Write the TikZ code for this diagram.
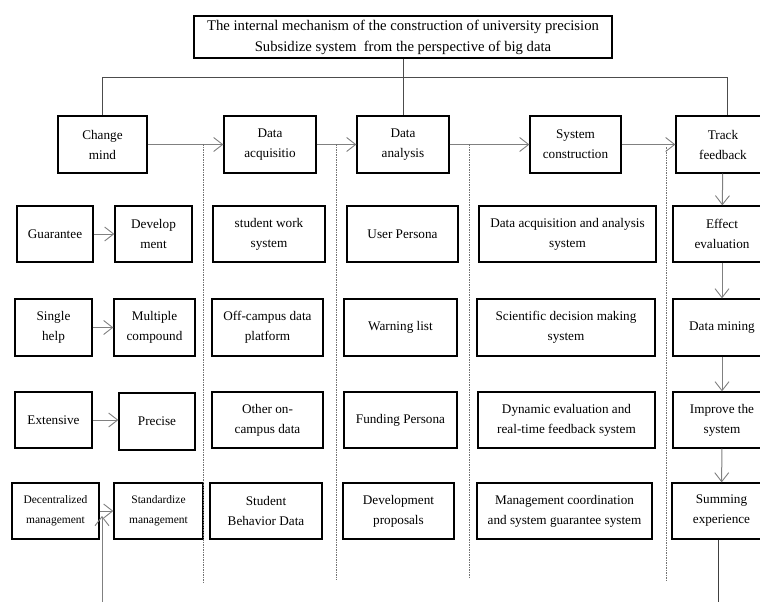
\documentclass[tikz,border=0pt]{standalone}
\usepackage{fontspec}
\setmainfont{Liberation Serif}
\usetikzlibrary{arrows.meta}
\begin{document}
\begin{tikzpicture}[x=1pt,y=-1pt,
  box/.style={draw=black,line width=1.3pt,inner sep=0pt,align=center,
    font=\fontsize{13.2}{20}\selectfont},
  conn/.style={draw=black!50,line width=1pt},
  arr/.style={conn,-{Straight Barb[length=9pt,width=14pt,line width=0.9pt]}},
  dotline/.style={draw=black!55,line width=0.8pt,dash pattern=on 1.5pt off 1pt},
  topline/.style={draw=black!70,line width=1pt}]
\useasboundingbox (0,0) rectangle (760,602);
\begin{scope}
\clip (0,0) rectangle (760,602);
% title
\node[box,minimum width=418,minimum height=42,font=\fontsize{14.7}{21}\selectfont] (title) at (403,37)
  {The internal mechanism of the construction of university precision\\Subsidize system\ \ from the perspective of big data};
% top row
\node[box,minimum width=89,minimum height=57] (cm) at (102.5,144.5) {Change\\mind};
\node[box,minimum width=92,minimum height=57] (da) at (270,144.5) {Data\\acquisitio};
\node[box,minimum width=92,minimum height=57] (dan) at (403,144.5) {Data\\analysis};
\node[box,minimum width=91,minimum height=57] (sc) at (575.5,144.5) {System\\construction};
\node[box,minimum width=94,minimum height=57] (tf) at (723,144.5) {Track\\feedback};
% column 1
\node[box,minimum width=76,minimum height=56] (gua) at (55,234) {Guarantee};
\node[box,minimum width=77,minimum height=56] (dev) at (153.5,234) {Develop\\ment};
\node[box,minimum width=77,minimum height=57] (sh) at (53.5,327.5) {Single\\help};
\node[box,minimum width=81,minimum height=57] (mc) at (154.5,327.5) {Multiple\\compound};
\node[box,minimum width=77,minimum height=56] (ext) at (53.5,420) {Extensive};
\node[box,minimum width=76,minimum height=57] (pre) at (157,421.5) {Precise};
\node[box,minimum width=87,minimum height=56,font=\fontsize{11.5}{20}\selectfont] (dec) at (55.5,511) {Decentralized\\management};
\node[box,minimum width=89,minimum height=56,font=\fontsize{11.5}{20}\selectfont] (std) at (158.5,511) {Standardize\\management};
% column 2
\node[box,minimum width=112,minimum height=56] (swk) at (269,234) {student work\\system};
\node[box,minimum width=111,minimum height=57] (ocd) at (267.5,327.5) {Off-campus data\\platform};
\node[box,minimum width=111,minimum height=56] (oon) at (267.5,420) {Other on-\\campus data};
\node[box,minimum width=112,minimum height=56] (sbd) at (266,511) {Student\\Behavior Data};
% column 3
\node[box,minimum width=111,minimum height=56] (up) at (402.5,234) {User Persona};
\node[box,minimum width=113,minimum height=57] (wl) at (400.5,327.5) {Warning list};
\node[box,minimum width=113,minimum height=56] (fp) at (400.5,420) {Funding Persona};
\node[box,minimum width=111,minimum height=56] (dp) at (398.5,511) {Development\\proposals};
% column 4
\node[box,minimum width=177,minimum height=56] (dams) at (567.5,234) {Data acquisition and analysis\\system};
\node[box,minimum width=178,minimum height=57] (sdm) at (566,327.5) {Scientific decision making\\system};
\node[box,minimum width=177,minimum height=56] (dyn) at (566.5,420) {Dynamic evaluation and\\real-time feedback system};
\node[box,minimum width=175,minimum height=56] (mgc) at (564.5,511) {Management coordination\\and system guarantee system};
% column 5
\node[box,minimum width=98,minimum height=56] (ee) at (722,234) {Effect\\evaluation};
\node[box,minimum width=98,minimum height=57] (dm) at (722,327.5) {Data mining};
\node[box,minimum width=98,minimum height=56] (im) at (722,420) {Improve the\\system};
\node[box,minimum width=99,minimum height=56] (se) at (721.5,511) {Summing\\experience};
% top connectors
\coordinate (hr) at (727,77);
\draw[topline] (title.south) -- (dan.north);
\draw[topline] (cm.north) |- (hr) -- (hr |- tf.north);
% main flow
\draw[arr] (cm) -- (da);
\draw[arr] (da) -- (dan);
\draw[arr] (dan) -- (sc);
\draw[arr] (sc) -- (tf);
% column 1 arrows
\draw[arr] (gua) -- (dev);
\draw[arr] (sh) -- (mc);
\draw[arr] (ext.east) -- (ext.east -| pre.west);
\draw[arr] (dec) -- (std);
\coordinate (ub) at (102,602);
\coordinate (ut) at (102,516);
\draw[arr] (ub) -- (ut);
% column 5 arrows
\draw[arr] (tf) -- (ee);
\draw[arr] (ee) -- (dm);
\draw[arr] (dm) -- (im);
\draw[arr] (im) -- (se);
\coordinate (sb) at (718,602);
\draw[conn,draw=black!75] (sb |- se.south) -- (sb);
% dotted separators
\coordinate (d1) at (203,144); \coordinate (d1b) at (203,582);
\coordinate (d2) at (336,144); \coordinate (d2b) at (336,580);
\coordinate (d3) at (469,144); \coordinate (d3b) at (469,578);
\coordinate (d4) at (666,147); \coordinate (d4b) at (666,582);
\draw[dotline] (d1) -- (d1b);
\draw[dotline] (d2) -- (d2b);
\draw[dotline] (d3) -- (d3b);
\draw[dotline] (d4) -- (d4b);
\end{scope}
\end{tikzpicture}
\end{document}
